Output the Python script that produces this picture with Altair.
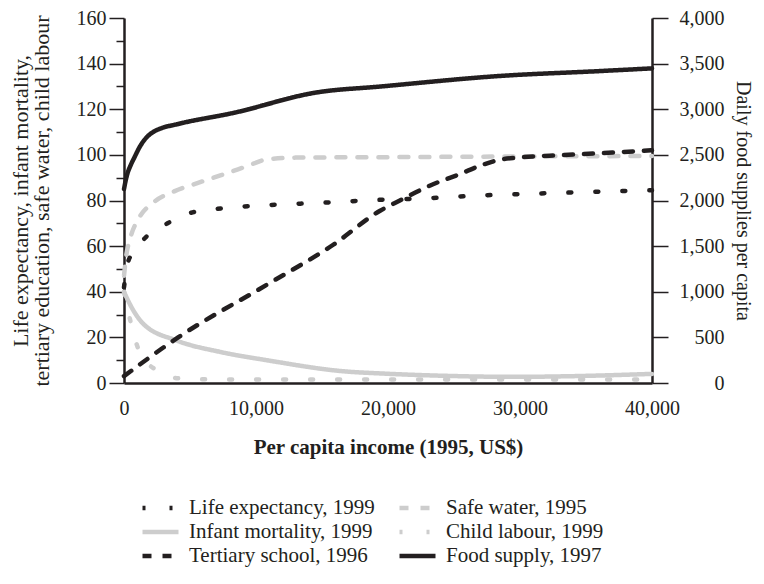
import altair as alt
import pandas as pd

FONT = "Liberation Serif"
BLACK = "#231f20"
GRAY = "#cdcdcd"
FS = 20

# ---- data ----
life_x = [0, 300, 700, 1500, 3300, 5000, 7000, 11000, 15000, 19000, 23000, 27000, 31000, 35000, 40000]
life_y = [42, 53, 57, 63, 70, 74.5, 76.3, 78, 79, 80.2, 81, 82.2, 83, 83.7, 84.5]

infant_x = [0, 450, 1450, 4000, 7300, 10800, 16900, 19400, 24000, 29500, 34000, 40000]
infant_y = [40, 34.5, 26, 18.6, 13.6, 10, 5, 4.2, 3.2, 2.7, 3.0, 4.0]

tert_x = [0, 4100, 10800, 15850, 19400, 20900, 23200, 25450, 27000, 28500, 30000, 33300, 37000, 40000]
tert_y = [3, 20, 43, 60.6, 75.5, 80, 86.6, 91.6, 95.3, 97.9, 98.9, 99.9, 101, 102]

water_x = [0, 150, 500, 1100, 2200, 3800, 5500, 7300, 9300, 10800, 13000, 20000, 30000, 40000]
water_y = [47, 55, 64, 72, 79, 84, 87.5, 91, 95, 98, 98.8, 99, 99.3, 99.5]

child_x = [0, 450, 1150, 2350, 4200, 6000, 12000, 20000, 30000, 40000]
child_y = [40, 28, 14, 6, 2, 1.6, 1.5, 1.5, 1.5, 1.5]

food_x = [0, 100, 250, 500, 800, 1200, 1700, 2200, 2700, 4000, 8300, 14600, 19500, 28500, 36000, 40000]
food_y = [2125, 2200, 2290, 2385, 2475, 2590, 2690, 2750, 2785, 2835, 2960, 3184, 3250, 3365, 3418, 3448]

# legend fills column by column
series_order = [
    "Life expectancy, 1999",
    "Infant mortality, 1999",
    "Tertiary school, 1996",
    "Safe water, 1995",
    "Child labour, 1999",
    "Food supply, 1997",
]
series_colors = [BLACK, GRAY, BLACK, GRAY, GRAY, BLACK]
series_dashes = [[3, 24], [1, 0], [9, 11], [9, 12], [3, 24], [1, 0]]

x_ticks = [0, 10000, 20000, 30000, 40000]
left_ticks = list(range(0, 161, 10))
right_ticks = list(range(0, 4001, 500))


def frame(xs, ys, name):
    return pd.DataFrame({"income": xs, "value": ys, "series": name})


left_df = pd.concat([
    frame(infant_x, infant_y, "Infant mortality, 1999"),
    frame(child_x, child_y, "Child labour, 1999"),
    frame(water_x, water_y, "Safe water, 1995"),
    frame(life_x, life_y, "Life expectancy, 1999"),
    frame(tert_x, tert_y, "Tertiary school, 1996"),
], ignore_index=True)
food_df = frame(food_x, food_y, "Food supply, 1997")

legend = alt.Legend(
    title=None, orient="none", legendX=16, legendY=478, columns=2,
    symbolType="stroke", symbolSize=1296, symbolStrokeWidth=4.5,
    labelFont=FONT, labelFontSize=21, labelColor=BLACK, labelLimit=400,
    labelOffset=8, columnPadding=22, rowPadding=0, clipHeight=24,
)
color = alt.Color("series:N", scale=alt.Scale(domain=series_order, range=series_colors), legend=legend)
dash = alt.StrokeDash("series:N", scale=alt.Scale(domain=series_order, range=series_dashes), legend=legend)

x_enc = alt.X(
    "income:Q",
    scale=alt.Scale(domain=[0, 40000], nice=False, zero=True),
    axis=alt.Axis(
        values=x_ticks, format=",d", ticks=False, labelPadding=15, labelFlush=False,
        labelFont=FONT, labelFontSize=FS, labelColor=BLACK,
        domainColor=BLACK, domainWidth=2.5, grid=False,
        title="Per capita income (1995, US$)", titleFont=FONT, titleFontSize=21,
        titleFontWeight="bold", titleColor=BLACK, titleY=64, titleBaseline="middle",
    ),
)

left = alt.Chart(left_df).mark_line(
    strokeWidth=4.5, strokeCap="round", interpolate="monotone"
).encode(
    x=x_enc,
    y=alt.Y(
        "value:Q",
        scale=alt.Scale(domain=[0, 160], nice=False),
        axis=alt.Axis(
            values=left_ticks,
            labelExpr="datum.value % 20 === 0 ? datum.label : ''",
            tickSize={"condition": {"test": "datum.value % 20 === 0", "value": 15}, "value": 8},
            tickWidth=1.5, tickColor=BLACK, domainColor=BLACK, domainWidth=2.5,
            labelFont=FONT, labelFontSize=FS, labelColor=BLACK, labelPadding=3,
            grid=False,
            title=["Life expectancy, infant mortality,", "tertiary education, safe water, child labour"],
            titleFont=FONT, titleFontSize=22, titleFontWeight="normal", titleColor=BLACK,
            titleAngle=270, titleX=-104, titleY=182.5, titleAlign="center",
            titleBaseline="middle", titleLineHeight=21,
        ),
    ),
    color=color,
    strokeDash=dash,
)

right = alt.Chart(food_df).mark_line(
    strokeWidth=4.5, strokeCap="round", interpolate="monotone"
).encode(
    x=x_enc,
    y=alt.Y(
        "value:Q",
        scale=alt.Scale(domain=[0, 4000], nice=False),
        axis=alt.Axis(
            orient="right", values=right_ticks, format=",d",
            tickSize=16, tickWidth=1.5, tickColor=BLACK, domainColor=BLACK, domainWidth=2.5,
            labelFont=FONT, labelFontSize=FS, labelColor=BLACK,
            labelAlign="right", labelPadding=56, grid=False,
            title="Daily food supplies per capita", titleFont=FONT, titleFontSize=20,
            titleFontWeight="normal", titleColor=BLACK,
            titleAngle=90, titleX=90, titleY=182.5, titleAlign="center", titleBaseline="middle",
        ),
    ),
    color=color,
    strokeDash=dash,
)

chart = alt.layer(left, right).resolve_scale(y="independent").properties(
    width=528, height=365,
    padding={"left": 116, "top": 10, "right": 104, "bottom": 190},
    autosize=alt.AutoSizeParams(type="none"),
).configure_view(stroke=None)

chart.save("out.html", embed_options={"renderer": "svg", "actions": False})
